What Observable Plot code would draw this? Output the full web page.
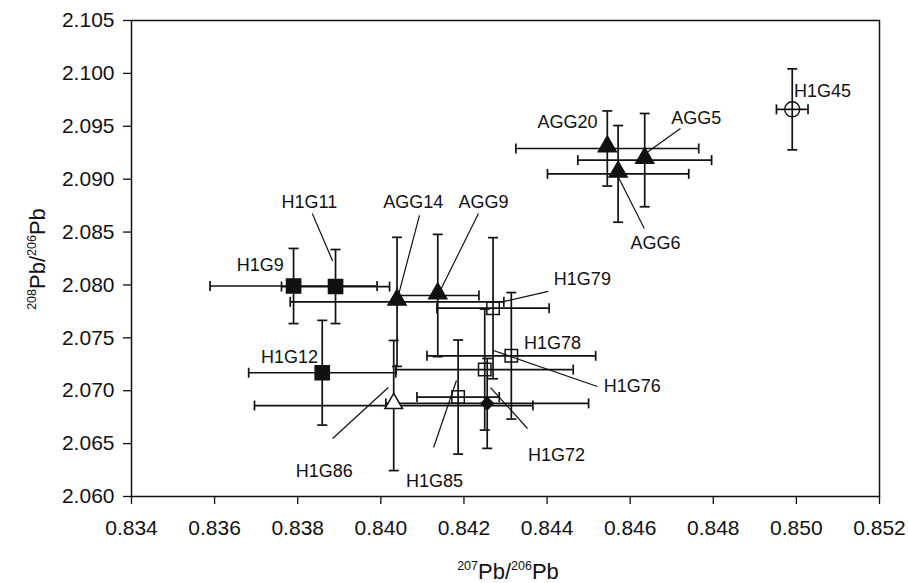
<!DOCTYPE html>
<html>
<head>
<meta charset="utf-8">
<script src="https://cdn.jsdelivr.net/npm/d3@7"></script>
<script src="https://cdn.jsdelivr.net/npm/@observablehq/plot@0.6"></script>
<style>
  html, body { margin: 0; padding: 0; background: #fff; }
  #chart svg { display: block; }
</style>
</head>
<body>
<div id="chart"></div>
<script>
// ---- data ----
const names = ["H1G45","AGG20","AGG5","AGG6","H1G9","H1G11","AGG14","AGG9","H1G79","H1G78","H1G76","H1G12","H1G85","H1G72","H1G86"];
const groups = ["openCircle","tri","tri","tri","sq","sq","tri","tri","openSq","openSq","openSq","sq","openSq","diamond","openTri"];
const pb207_206 = [0.8499,0.84545,0.84635,0.84571,0.8379,0.83891,0.84039,0.84137,0.8427,0.84314,0.8425,0.83859,0.84186,0.84256,0.84031];
const pb208_206 = [2.0966,2.0929,2.0918,2.0905,2.0799,2.07985,2.0784,2.0790,2.0778,2.0733,2.0720,2.0717,2.0694,2.0688,2.0686];
const err207 = [0.00038,0.0022,0.00161,0.0017,0.00201,0.0013,0.00257,0.00099,0.00135,0.00203,0.00213,0.00177,0.00099,0.00244,0.00335];
const err208 = [0.00383,0.00355,0.00441,0.00457,0.00355,0.0035,0.0061,0.00578,0.00667,0.00598,0.00572,0.00495,0.00539,0.00425,0.00615];
const xTicks = [0.834,0.836,0.838,0.840,0.842,0.844,0.846,0.848,0.850,0.852];
const yTicks = [2.060,2.065,2.070,2.075,2.080,2.085,2.090,2.095,2.100,2.105];

// ---- annotation layout (label centres and leader lines, in data units) ----
const labelX = [0.85063,0.84449,0.84759,0.84661,0.8371,0.83828,0.84078,0.84247,0.84485,0.84413,0.84605,0.8378,0.84129,0.84423,0.83864];
const labelY = [2.09829,2.09536,2.09574,2.08392,2.08184,2.08779,2.08779,2.08779,2.08051,2.07446,2.0704,2.07314,2.06142,2.06388,2.06236];
const leaderNames = ["AGG5","AGG6","H1G11","AGG14","AGG9","H1G79","H1G76","H1G86","H1G85","H1G72"];
const leaderX1 = [0.84721,0.84634,0.83835,0.84093,0.84235,0.84403,0.84521,0.83884,0.84127,0.84353];
const leaderY1 = [2.09479,2.08534,2.08675,2.08657,2.08675,2.07939,2.0704,2.06548,2.06463,2.06643];
const leaderX2 = [0.84637,0.84572,0.83884,0.84042,0.84143,0.84295,0.84271,0.84018,0.84182,0.84264];
const leaderY2 = [2.09243,2.09016,2.08227,2.07899,2.07948,2.07843,2.0738,2.0703,2.07097,2.0703];

const rows = names.map((n, i) => ({
  name: n, group: groups[i], x: pb207_206[i], y: pb208_206[i],
  xe: err207[i], ye: err208[i], lx: labelX[i], ly: labelY[i]
}));
const leaders = leaderNames.map((n, i) => ({name: n, x1: leaderX1[i], y1: leaderY1[i], x2: leaderX2[i], y2: leaderY2[i]}));

// cap symbols (short perpendicular strokes)
const capV = {draw(ctx, size) { const h = Math.sqrt(size / Math.PI); ctx.moveTo(0, -h); ctx.lineTo(0, h); }};
const capH = {draw(ctx, size) { const h = Math.sqrt(size / Math.PI); ctx.moveTo(-h, 0); ctx.lineTo(h, 0); }};

const ink = "#111";
const byGroup = g => rows.filter(d => d.group === g);

const chart = Plot.plot({
  width: 908,
  height: 583,
  marginTop: 20,
  marginRight: 29,
  marginBottom: 87,
  marginLeft: 131,
  style: {fontFamily: "'Liberation Sans', Arial, Helvetica, sans-serif", color: ink, background: "#fff"},
  x: {domain: [0.834, 0.852], label: null},
  y: {domain: [2.060, 2.105], label: null},
  marks: [
    Plot.axisY(yTicks, {tickFormat: d3.format(".3f"), tickSize: 8, tickPadding: 9, fontSize: 21, label: null, stroke: ink, strokeWidth: 1.3}),
    Plot.axisX(xTicks, {tickFormat: d3.format(".3f"), tickSize: 8, tickPadding: 16, fontSize: 21, label: null, stroke: ink, strokeWidth: 1.3}),
    Plot.frame({stroke: ink, strokeWidth: 1.5}),
    // error bars
    Plot.ruleY(rows, {y: "y", x1: d => d.x - d.xe, x2: d => d.x + d.xe, stroke: ink, strokeWidth: 1.7}),
    Plot.ruleX(rows, {x: "x", y1: d => d.y - d.ye, y2: d => d.y + d.ye, stroke: ink, strokeWidth: 1.7}),
    Plot.dot(rows, {x: d => d.x - d.xe, y: "y", symbol: capV, r: 5, stroke: ink, strokeWidth: 1.7, fill: "none"}),
    Plot.dot(rows, {x: d => d.x + d.xe, y: "y", symbol: capV, r: 5, stroke: ink, strokeWidth: 1.7, fill: "none"}),
    Plot.dot(rows, {x: "x", y: d => d.y - d.ye, symbol: capH, r: 5, stroke: ink, strokeWidth: 1.7, fill: "none"}),
    Plot.dot(rows, {x: "x", y: d => d.y + d.ye, symbol: capH, r: 5, stroke: ink, strokeWidth: 1.7, fill: "none"}),
    // leader lines
    Plot.link(leaders, {x1: "x1", y1: "y1", x2: "x2", y2: "y2", stroke: ink, strokeWidth: 1.2}),
    // markers
    Plot.dot(byGroup("sq"), {x: "x", y: "y", symbol: "square", r: 8, fill: ink, stroke: ink}),
    Plot.dot(byGroup("tri"), {x: "x", y: "y", symbol: "triangle", r: 6.7, fill: ink, stroke: ink, dy: -2}),
    Plot.dot(byGroup("openSq"), {x: "x", y: "y", symbol: "square", r: 7, fill: "none", stroke: ink, strokeWidth: 1.5}),
    Plot.dot(byGroup("openTri"), {x: "x", y: "y", symbol: "triangle", r: 6.5, fill: "#fff", stroke: ink, strokeWidth: 1.5, dy: -2}),
    Plot.dot(byGroup("diamond"), {x: "x", y: "y", symbol: "diamond2", r: 5.6, fill: ink, stroke: ink}),
    Plot.dot(byGroup("openCircle"), {x: "x", y: "y", symbol: "circle", r: 7.5, fill: "none", stroke: ink, strokeWidth: 1.5}),
    // labels
    Plot.text(rows, {x: "lx", y: "ly", text: "name", fontSize: 18, fill: ink})
  ]
});

document.getElementById("chart").appendChild(chart);

// axis titles with superscript mass numbers
const svg = d3.select(chart);
function isoTitle(sel, parts) {
  parts.forEach(([t, sup], i) => {
    sel.append("tspan")
      .attr("font-size", sup ? 12.5 : 22)
      .attr("dy", sup ? -9 : (i === 0 ? 0 : 9))
      .text(t);
  });
}
const xt = svg.append("text")
  .attr("x", 508).attr("y", 579)
  .attr("text-anchor", "middle")
  .attr("fill", ink)
  .style("font-family", "'Liberation Sans', Arial, sans-serif");
isoTitle(xt, [["207", true], ["Pb/", false], ["206", true], ["Pb", false]]);

const yt = svg.append("text")
  .attr("transform", "translate(45,259) rotate(-90)")
  .attr("text-anchor", "middle")
  .attr("fill", ink)
  .style("font-family", "'Liberation Sans', Arial, sans-serif");
isoTitle(yt, [["208", true], ["Pb/", false], ["206", true], ["Pb", false]]);
</script>
</body>
</html>
